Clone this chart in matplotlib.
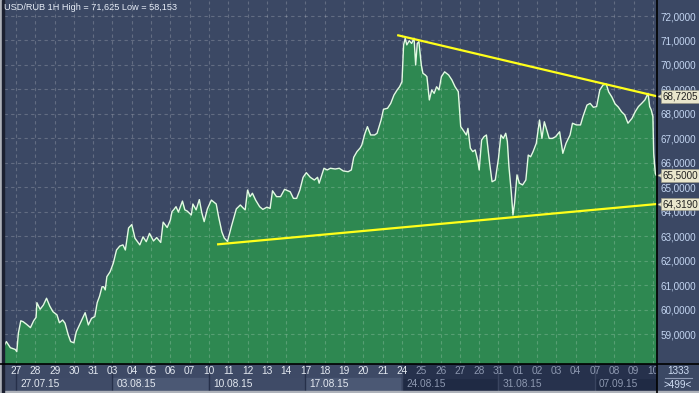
import matplotlib
matplotlib.use('Agg')
import matplotlib.pyplot as plt
import matplotlib.transforms as mtrans
from matplotlib.lines import Line2D
from matplotlib.patches import Rectangle
from matplotlib.ticker import FuncFormatter

plt.rcParams['font.family'] = ['Liberation Sans', 'DejaVu Sans']

# hourly bars, x = trading hours since 27.07.15 00:00 (weekends removed)
hours = [-16, -12, -7, -1, 1, 3, 6, 9, 13, 18, 22, 25, 26, 30, 34, 38, 42, 46, 51, 54,
         58, 61, 65, 68, 72, 75, 80, 86, 90, 94, 98, 101, 104, 107, 109, 111, 113, 117, 121, 125,
         129, 133, 136, 140, 144, 148, 154, 158, 162, 166, 171, 175, 180, 183, 188, 192, 194, 196, 199, 202,
         207, 210, 213, 218, 220, 224, 228, 231, 234, 238, 243, 249, 252, 256, 259, 263, 268, 274, 279, 283,
         285, 288, 291, 294, 298, 303, 307, 312, 316, 319, 324, 329, 334, 341, 345, 349, 353, 357, 361, 366,
         371, 375, 377, 383, 387, 391, 397, 402, 407, 413, 417, 420, 424, 428, 430, 434, 437, 441, 446, 449,
         454, 457, 462, 466, 470, 474, 477, 480, 482, 484, 486, 489, 492, 495, 497, 499, 501, 504, 506, 509,
         511, 514, 517, 520, 523, 526, 529, 533, 538, 542, 546, 550, 553, 556, 560, 562, 565, 568, 571, 574,
         576, 579, 582, 585, 589, 592, 596, 600, 603, 606, 609, 611, 613, 616, 618, 620, 623, 626, 630, 634,
         637, 640, 643, 647, 651, 654, 657, 660, 663, 667, 671, 676, 680, 684, 689, 692, 697, 702, 705, 710,
         714, 718, 722, 726, 730, 734, 737, 741, 745, 749, 753, 757, 761, 766, 770, 774, 778, 782, 786, 788,
         790, 792, 793, 795, 796]
close = [58.43, 58.70, 58.45, 58.38, 58.29, 59.05, 59.55, 59.51, 59.41, 59.27, 59.55, 59.69, 60.29, 60.02, 60.19, 60.47, 60.15, 59.92, 59.79, 59.47,
         59.58, 59.45, 58.97, 58.70, 58.65, 59.10, 59.45, 59.88, 59.38, 59.65, 59.72, 60.29, 60.56, 60.94, 60.94, 60.81, 61.35, 61.55, 61.90, 62.44,
         62.60, 62.65, 62.44, 63.34, 63.48, 62.92, 62.65, 62.98, 62.78, 63.12, 62.81, 62.95, 62.75, 63.58, 63.36, 63.67, 64.01, 64.08, 64.21, 63.99,
         64.44, 64.08, 64.03, 63.87, 64.32, 64.08, 64.50, 63.97, 63.60, 64.12, 64.48, 64.32, 63.79, 63.18, 62.93, 62.79, 63.42, 64.12, 64.28, 64.14,
         64.08, 64.89, 64.62, 64.76, 64.48, 64.21, 64.10, 64.19, 64.14, 64.86, 64.62, 64.62, 64.92, 64.82, 64.55, 64.55, 64.89, 65.41, 65.60, 65.41,
         65.30, 65.41, 65.17, 65.78, 65.71, 65.78, 65.75, 65.78, 65.67, 65.64, 65.71, 66.23, 66.46, 66.61, 66.73, 67.21, 67.48, 67.14, 67.14, 67.21,
         67.75, 68.19, 68.23, 68.43, 68.77, 68.98, 69.11, 69.32, 70.82, 71.09, 70.82, 70.99, 70.88, 71.09, 70.00, 70.88, 70.95, 70.00, 69.66, 69.59,
         69.52, 68.57, 68.98, 68.84, 69.11, 68.98, 69.52, 69.72, 69.59, 69.39, 69.11, 68.91, 67.48, 67.34, 67.14, 67.41, 66.60, 66.46, 66.53, 66.12,
         65.71, 66.93, 67.07, 67.14, 65.98, 65.23, 65.30, 66.19, 67.14, 67.00, 67.21, 66.87, 65.84, 64.76, 63.87, 64.35, 65.51, 65.17, 65.10, 65.30,
         66.32, 66.25, 66.46, 66.80, 67.75, 67.00, 67.68, 67.34, 67.00, 67.00, 67.07, 67.27, 66.39, 66.80, 67.14, 67.62, 67.55, 67.55, 67.89, 68.36,
         68.43, 68.27, 68.30, 68.98, 69.18, 69.22, 68.90, 68.69, 68.41, 68.28, 68.09, 67.96, 67.62, 67.82, 68.09, 68.30, 68.43, 68.57, 68.84, 68.30,
         68.16, 67.89, 66.39, 65.57, 65.50]
assert len(hours) == len(close)

# trend lines drawn by hand on the chart
upper_h = [474, 797]
upper_p = [71.22, 68.7205]
lower_h = [250, 797]
lower_p = [62.67, 64.319]
tags = [68.7205, 65.5000, 64.3190]

day_labels = ['27', '28', '29', '30', '31', '03', '04', '05', '06', '07',
              '10', '11', '12', '13', '14', '17', '18', '19', '20', '21',
              '24', '25', '26', '27', '28', '31', '01', '02', '03', '04',
              '07', '08', '09', '10']
week_labels = ['27.07.15', '03.08.15', '10.08.15', '17.08.15', '24.08.15', '31.08.15', '07.09.15']
price_ticks = list(range(59, 73))
title = 'USD/RUB 1H High = 71,625 Low = 58,153'

W, H = 699, 393
BG = '#3b4864'
xlo, xhi = -14.9, 797.1
ylo, yhi = 57.784, 72.613

fig = plt.figure(figsize=(W / 100, H / 100), dpi=100, facecolor=BG)
ax = fig.add_axes([4 / W, (H - 364) / H, 653 / W, 363 / H])
ax.set_facecolor(BG)

ax.fill_between(hours, close, ylo, color='#2e8851', lw=0, zorder=1)
ax.plot(hours, close, color='#e2fbe2', lw=1.0, zorder=2)
ax.plot(upper_h, upper_p, color='#ffff1a', lw=1.6, zorder=4, solid_capstyle='butt')
ax.plot(lower_h, lower_p, color='#ffff1a', lw=1.6, zorder=4, solid_capstyle='butt')

ax.set_xlim(xlo, xhi)
ax.set_ylim(ylo, yhi)
ax.set_xticks([24 * k for k in range(len(day_labels))])
ax.set_yticks(price_ticks)
ax.set_axisbelow(False)
ax.grid(True, color='white', alpha=0.2, linestyle=(0, (3, 3)), linewidth=0.8)
ax.tick_params(axis='x', length=0, labelbottom=False)
ax.yaxis.tick_right()
ax.tick_params(axis='y', length=0, pad=2.5, labelsize=7.1, labelcolor='#c4d6f2')
ax.yaxis.set_major_formatter(FuncFormatter(lambda v, p: ('%.4f' % v).replace('.', ',')))
for s in ax.spines.values():
    s.set_visible(False)

# price tags on the right scale
tr = mtrans.blended_transform_factory(ax.transAxes, ax.transData)
for v in tags:
    ax.plot(1 + 3.5 / 653, v, marker='<', ms=5.5, color='#e9e6cc', mec='#9c9a84', mew=0.4,
            transform=tr, clip_on=False, zorder=10)
    ax.text(1 + 5.5 / 653, v, ('%.4f' % v).replace('.', ','), transform=tr, ha='left', va='center',
            fontsize=7.1, color='#202020', zorder=11, clip_on=False,
            bbox=dict(boxstyle='square,pad=0.14', fc='#e9e6cc', ec='#9c9a84', lw=0.4))

fig.text(4.5 / W, 1 - 7.5 / H, title, ha='left', va='center', fontsize=6.6, color='#e8eef8')

# date panel
axd = fig.add_axes([4 / W, 2 / H, 653 / W, 27 / H])
axd.set_xlim(xlo, xhi)
axd.set_ylim(0, 27)
axd.set_axis_off()
axd.add_patch(Rectangle((xlo, 0), xhi - xlo, 27, color='#3e4a66', zorder=0))
week_cols = ['#3f4b67', '#4b5874', '#3f4b67', '#4b5874', '#1f2a44', '#27324d', '#1f2a44']
for i, lab in enumerate(week_labels):
    h0 = 120 * i
    dark = h0 >= 480
    axd.add_patch(Rectangle((h0, 0), 120, 13.3, color=week_cols[i], zorder=1))
    if dark:
        axd.add_patch(Rectangle((h0, 13.3), 120, 13.7, color='#26314c', zorder=1))
    axd.axvline(h0, color='#26304a' if not dark else '#3a4560', lw=1, zorder=2)
    axd.text(h0 + 5, 6.8, lab, ha='left', va='center', fontsize=7.3, zorder=3,
             color='#8d98b0' if dark else '#e4e9f1', clip_on=True)
for k, lab in enumerate(day_labels):
    h0 = 24 * k
    axd.text(h0, 19.5, lab, ha='center', va='center', fontsize=7.3, zorder=3,
             color='#8d98b0' if h0 > 480 else '#e4e9f1', clip_on=True)

# frame lines and corner box
fig.add_artist(Line2D([0, 1], [1 - 364 / H] * 2, color='black', lw=1.2))
fig.add_artist(Line2D([657 / W] * 2, [0, 1], color='black', lw=1.2))
fig.add_artist(Rectangle((0, 0), 1, 2 / H, transform=fig.transFigure, color='#aeb2ba'))
fig.add_artist(Rectangle((0, 0), 2 / W, 1, transform=fig.transFigure, color='#aeb2ba'))
fig.add_artist(Rectangle((2 / W, 0), 1.5 / W, 1, transform=fig.transFigure, color='#1b2030'))
fig.text(678 / W, 1 - 371 / H, '1333', ha='center', va='center', fontsize=7.1, color='#d0def5')
fig.add_artist(Line2D([665 / W, 692 / W], [1 - 377.5 / H] * 2, color='#8f9bb5', lw=0.8))
fig.text(678 / W, 1 - 385 / H, '>499<', ha='center', va='center', fontsize=7.1, color='#d0def5')

fig.savefig('out.png', dpi=100, facecolor=BG)
